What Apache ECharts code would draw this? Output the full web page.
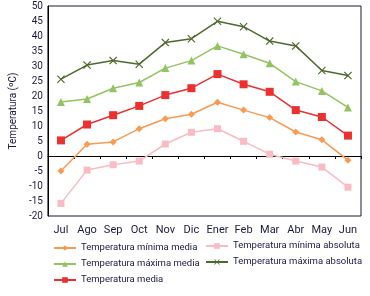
<!DOCTYPE html>
<html><head><meta charset="utf-8">
<script src="https://cdn.jsdelivr.net/npm/echarts@6/dist/echarts.min.js"></script>
<style>html,body{margin:0;padding:0;background:#fff}#c{width:370px;height:296px}</style>
</head><body><div id="c"></div>
<script>
var categories = ['Jul','Ago','Sep','Oct','Nov','Dic','Ener','Feb','Mar','Abr','May','Jun'];
var minMedia = [-5, 3.9, 4.7, 9.1, 12.4, 13.9, 17.9, 15.3, 12.8, 8.0, 5.4, -1.4];
var minAbs = [-15.8, -4.7, -2.9, -1.7, 4.0, 7.9, 9.1, 4.9, 0.6, -1.7, -3.7, -10.4];
var maxMedia = [18.0, 19.0, 22.6, 24.5, 29.3, 31.8, 36.7, 33.9, 30.9, 24.8, 21.7, 16.2];
var maxAbs = [25.6, 30.3, 31.8, 30.6, 37.8, 39.1, 44.9, 43.1, 38.3, 36.7, 28.5, 26.8];
var media = [5.2, 10.5, 13.6, 16.7, 20.3, 22.6, 27.3, 23.9, 21.4, 15.3, 13.0, 6.8];
var yMin = -20, yMax = 50, yStep = 5;

var FONT = 'Roboto, sans-serif';
var TXT = '#1a1a40';
var xPath = 'path://M0,1 L1,0 L5,4 L9,0 L10,1 L6,5 L10,9 L9,10 L5,6 L1,10 L0,9 L4,5 Z';

function s(name, data, color, symbol, size) {
  return { name: name, type: 'line', data: data, symbol: symbol, symbolSize: size,
    lineStyle: { color: color, width: 1.5 }, itemStyle: { color: color },
    z: 3 };
}

var chart = echarts.init(document.getElementById('c'));
chart.setOption({
  animation: false,
  textStyle: { fontFamily: FONT },
  grid: { left: 37, right: 9, top: 6, bottom: 80, show: true, borderColor: '#1a1a30', borderWidth: 1 },
  xAxis: {
    type: 'category', data: categories, boundaryGap: true,
    axisLine: { onZero: true, lineStyle: { color: '#000', width: 1 } },
    axisTick: { show: true, length: 3, lineStyle: { color: '#000' } },
    axisLabel: { interval: 0, color: TXT, fontSize: 11, fontFamily: FONT, margin: 9 },
    splitLine: { show: false }
  },
  yAxis: {
    type: 'value', min: yMin, max: yMax, interval: yStep,
    name: 'Temperatura (ºC)', nameLocation: 'middle', nameGap: 24, nameRotate: 90,
    nameTextStyle: { color: TXT, fontSize: 10, fontFamily: FONT },
    axisLine: { show: true, onZero: false, lineStyle: { color: '#000' } },
    axisTick: { show: false },
    axisLabel: { color: TXT, fontSize: 10, fontFamily: FONT, margin: 5 },
    splitLine: { show: false }
  },
  legend: [
    { orient: 'vertical', left: 48, top: 238, itemWidth: 22, itemHeight: 7, itemGap: 6,
      textStyle: { color: TXT, fontSize: 9.5, fontFamily: FONT },
      data: ['Temperatura mínima media', 'Temperatura máxima media', 'Temperatura media'] },
    { orient: 'vertical', left: 200, top: 236, itemWidth: 22, itemHeight: 7, itemGap: 6,
      textStyle: { color: TXT, fontSize: 9.5, fontFamily: FONT },
      data: ['Temperatura mínima absoluta', 'Temperatura máxima absoluta'] }
  ],
  series: [
    s('Temperatura mínima media', minMedia, '#f99a52', 'diamond', 7),
    s('Temperatura mínima absoluta', minAbs, '#f9bcc4', 'rect', 7),
    s('Temperatura máxima media', maxMedia, '#93c462', 'triangle', 8),
    s('Temperatura máxima absoluta', maxAbs, '#4e6a2c', xPath, 8),
    s('Temperatura media', media, '#ec2f2f', 'rect', 8)
  ]
});
</script></body></html>
